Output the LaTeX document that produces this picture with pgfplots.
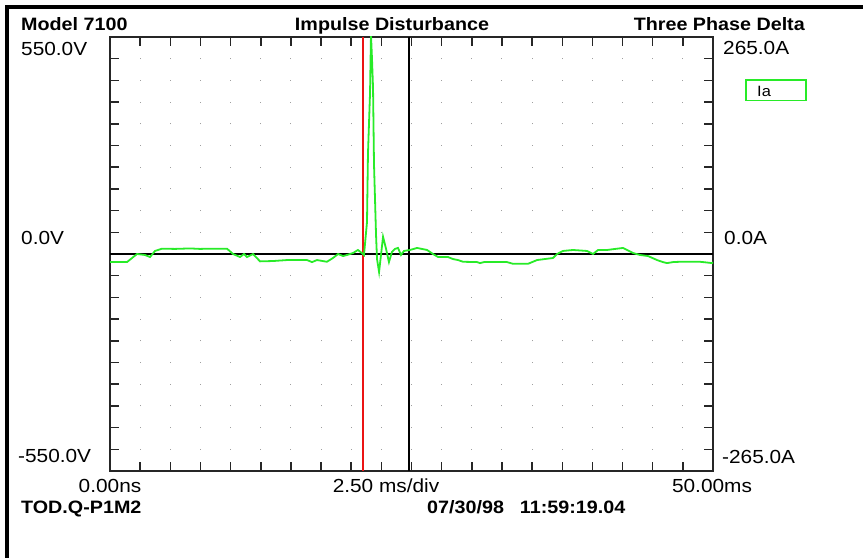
\documentclass[border=0pt]{standalone}
\usepackage{fontspec}
\setmainfont{Liberation Sans}[FakeStretch=1.1]
\usepackage{pgfplots}
\pgfplotsset{compat=1.18}
\definecolor{trace}{RGB}{40,235,40}
\definecolor{cursorred}{RGB}{235,20,20}
\newcommand{\lbl}{\fontsize{19}{21}\selectfont}
\newcommand{\hdr}{\fontsize{18}{20}\selectfont\bfseries}

\begin{document}
\begin{tikzpicture}[x=1bp,y=1bp]
\useasboundingbox (0,0) rectangle (863,558);
% outer frame (left and top edges only)
\fill[black] (5,549) rectangle (863,553);
\fill[black] (5,0) rectangle (9,553);

\begin{axis}[at={(110bp,87bp)}, anchor=south west, scale only axis,
  width=603bp, height=434bp,
  xmin=0, xmax=50, ymin=-265, ymax=265,
  axis line style={line width=1.5bp, black!85},
  xtick={2.5,5,...,47.5}, ytick={-238.5,-212,...,238.5},
  xticklabels={}, yticklabels={},
  tick align=inside, major tick length=9bp,
  tick style={line width=1.5bp, black!85},
  xmajorgrids=true,
  major x grid style={gray!75, line width=1bp, dash pattern=on 1bp off 20.7bp, dash phase=0.5bp},
  clip=true]
  \addplot[black, line width=1.5bp] coordinates {(0,0) (50,0)};
  \addplot[cursorred, line width=1.4bp] coordinates {(20.98,-265) (20.98,265)};
  \addplot[black, line width=1.4bp] coordinates {(24.8,-265) (24.8,265)};
  \addplot[trace, line width=1.8bp] coordinates {
    (0,-9.9) (1.41,-9.9) (2.24,0) (2.90,-1.2) (3.32,-3.7) (3.73,3.7) (4.31,6.5)
    (5.39,6.2) (6.63,6.8) (7.46,6.2) (8.29,6.5) (9.70,6.5) (10.20,0) (10.78,-3.7)
    (11.11,0) (11.36,-3.7) (11.86,0) (12.44,-9.0) (13.52,-8.6) (14.68,-7.4)
    (16.34,-7.4) (16.75,-9.9) (17.16,-7.4) (17.99,-9.5) (18.49,-4.9) (18.91,0)
    (19.32,-2.5) (19.65,-1.2) (20.15,1.2) (20.56,4.9) (20.98,0) (21.06,-1.2)
    (21.31,39) (21.39,122) (21.56,196) (21.64,268) (21.72,240) (21.81,203)
    (21.89,110) (22.06,23) (22.14,-6) (22.31,-22) (22.47,-1.2) (22.64,21)
    (22.89,6.2) (23.13,-9.9) (23.38,2.5) (23.63,6.2) (23.88,7.4) (24.13,-1.2)
    (24.38,3.7) (24.88,4.9) (25.46,7.4) (26.29,4.9) (26.78,0) (27.20,-3.7)
    (28.03,-3.7) (28.44,-6.2) (28.86,-7.4) (29.27,-9.5) (30.43,-9.9) (30.68,-11.1)
    (31.01,-9.9) (32.92,-9.9) (33.42,-12.0) (34.66,-12.0) (35.41,-7.4)
    (36.73,-4.9) (37.07,0) (37.56,3.7) (38.39,4.9) (39.55,3.7) (40.05,0)
    (40.47,4.9) (41.21,4.9) (42.54,7.4) (43.37,1.2) (43.95,-1.2) (44.61,-2.5)
    (45.36,-7.4) (45.85,-9.9) (46.19,-11.1) (46.68,-9.9) (47.26,-9.5)
    (48.92,-9.5) (49.92,-11.1) (50,-10)};
\end{axis}

% header
\node[anchor=base west, inner sep=0, font=\hdr] at (21,527) {Model 7100};
\node[anchor=base, inner sep=0, font=\hdr] at (392,527) {Impulse Disturbance};
\node[anchor=base east, inner sep=0, font=\hdr] at (805,527) {Three Phase Delta};
% left scale
\node[anchor=base west, inner sep=0, font=\lbl] at (21,502) {550.0V};
\node[anchor=base west, inner sep=0, font=\lbl] at (21,313) {0.0V};
\node[anchor=base west, inner sep=0, font=\lbl] at (18,95) {-550.0V};
% right scale
\node[anchor=base west, inner sep=0, font=\lbl] at (723,503) {265.0A};
\node[anchor=base west, inner sep=0, font=\lbl] at (724,313) {0.0A};
\node[anchor=base west, inner sep=0, font=\lbl] at (722,94) {-265.0A};
% legend
\draw[trace, line width=1.5bp] (746,457.5) rectangle (806,478);
\node[anchor=base west, inner sep=0, font=\fontsize{15}{17}\selectfont] at (757,461.5) {Ia};
% time axis
\node[anchor=base, inner sep=0, font=\lbl] at (110,65) {0.00ns};
\node[anchor=base, inner sep=0, font=\lbl] at (386,65) {2.50 ms/div};
\node[anchor=base, inner sep=0, font=\lbl] at (712,65) {50.00ms};
% footer
\node[anchor=base west, inner sep=0, font=\hdr] at (21,44) {TOD.Q-P1M2};
\node[anchor=base west, inner sep=0, font=\hdr] at (427,44) {07/30/98\hspace{16bp}11:59:19.04};
\end{tikzpicture}
\end{document}
